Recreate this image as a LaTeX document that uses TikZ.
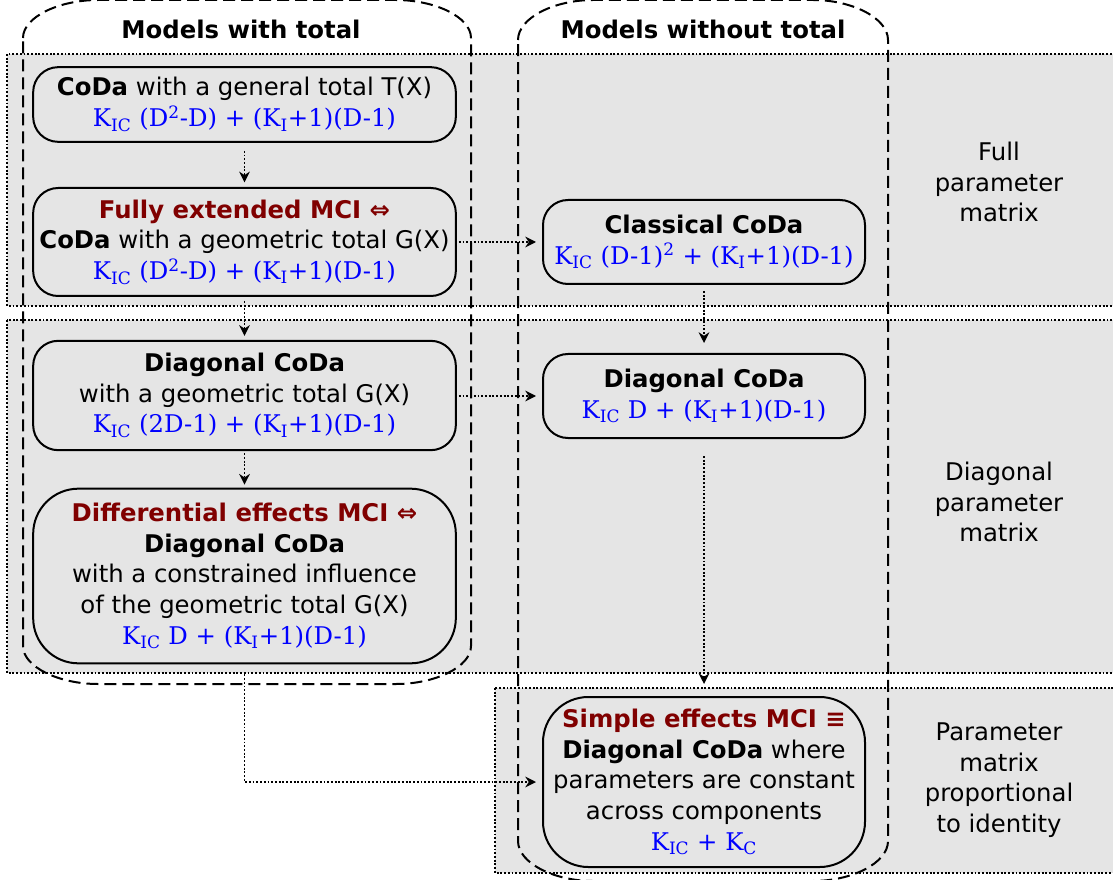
\documentclass[tikz,border=0pt]{standalone}
\usepackage{fontspec}
\setmainfont{DejaVu Sans}
\newfontfamily\formfont{DejaVu Serif}
\usetikzlibrary{arrows.meta}
\definecolor{bandgray}{gray}{0.9}
\definecolor{mcired}{rgb}{0.5,0,0}
\newcommand{\frm}[1]{{\formfont\color{blue}#1}}
\newcommand{\mci}[1]{{\bfseries\color{mcired}#1}}
\tikzset{
  model/.style={draw, line width=1.5pt, fill=bandgray, rounded corners=18.75pt,
    align=center, inner sep=0pt, minimum width=317pt},
  bigmodel/.style={model, rounded corners=34pt},
  band/.style={draw, fill=bandgray, line width=1.4pt, dash pattern=on 1.4pt off 1.4pt},
  column/.style={draw, line width=1.5pt, dash pattern=on 9pt off 4.5pt},
  flow/.style={line width=1.4pt, dash pattern=on 1.4pt off 1.4pt, -{Stealth[length=8pt,width=8pt]}},
}
\begin{document}
\begin{tikzpicture}[x=0.75pt, y=-0.75pt, font=\fontsize{18.25}{23}\selectfont]
  \useasboundingbox (0,0) rectangle (1113,880);
  \draw[band] (7,54) rectangle (1125,306);
  \draw[band] (7,320) rectangle (1125,673);
  \draw[band] (495,688) rectangle (1125,873);
  \draw[column] (23,38) .. controls (23,17) and (59,0) .. (98,0) -- (396,0)
    .. controls (435,0) and (471,17) .. (471,38) -- (471,646)
    .. controls (471,667) and (435,684) .. (396,684) -- (98,684)
    .. controls (59,684) and (23,667) .. (23,646) -- cycle;
  \draw[column] (518,40) .. controls (518,18) and (554,0) .. (593,0) -- (813,0)
    .. controls (852,0) and (888,18) .. (888,40) -- (888,841)
    .. controls (888,863) and (852,881) .. (813,881) -- (593,881)
    .. controls (554,881) and (518,863) .. (518,841) -- cycle;
  \node[font=\fontsize{18.25}{23}\selectfont\bfseries] (withtitle) at (241,29) {Models with total};
  \node[font=\fontsize{18.25}{23}\selectfont\bfseries] (withouttitle) at (703,29) {Models without total};
  \node[model, minimum height=56pt] (A) at (244.5,104.5)
    {{\bfseries CoDa} with a general total T(X)\\
     \frm{K\textsubscript{IC} (D\textsuperscript{2}-D) + (K\textsubscript{I}+1)(D-1)}};
  \node[model, minimum height=81pt] (B) at (244.5,242)
    {\mci{Fully extended MCI ⇔}\\
     {\bfseries CoDa} with a geometric total G(X)\\
     \frm{K\textsubscript{IC} (D\textsuperscript{2}-D) + (K\textsubscript{I}+1)(D-1)}};
  \node[model, minimum height=82pt] (C) at (244.5,395.5)
    {{\bfseries Diagonal CoDa}\\
     with a geometric total G(X)\\
     \frm{K\textsubscript{IC} (2D-1) + (K\textsubscript{I}+1)(D-1)}};
  \node[bigmodel, minimum height=131pt] (D) at (244.5,576)
    {\mci{Differential effects MCI ⇔}\\
     {\bfseries Diagonal CoDa}\\
     with a constrained influence\\
     of the geometric total G(X)\\
     \frm{K\textsubscript{IC} D + (K\textsubscript{I}+1)(D-1)}};
  \node[model, minimum width=241.5pt, minimum height=63pt] (E) at (704,242)
    {{\bfseries Classical CoDa}\\
     \frm{K\textsubscript{IC} (D-1)\textsuperscript{2} + (K\textsubscript{I}+1)(D-1)}};
  \node[model, minimum width=241.5pt, minimum height=63pt] (F) at (704,396)
    {{\bfseries Diagonal CoDa}\\
     \frm{K\textsubscript{IC} D + (K\textsubscript{I}+1)(D-1)}};
  \node[bigmodel, minimum width=241.5pt, minimum height=127.5pt] (G) at (704,782)
    {\mci{Simple effects MCI ≡}\\
     {\bfseries Diagonal CoDa} where\\
     parameters are constant\\
     across components\\
     \frm{K\textsubscript{IC} + K\textsubscript{C}}};
  \node[align=center] (full) at (999,182) {Full\\ parameter\\ matrix};
  \node[align=center] (diag) at (999,502) {Diagonal\\ parameter\\ matrix};
  \node[align=center] (ident) at (999,780) {Parameter\\ matrix\\ proportional\\ to identity};
  \begin{scope}[flow]
    \draw[shorten <=6pt, shorten >=3.5pt] (A) -- (B);
    \draw[shorten <=3pt, shorten >=3pt] (B) -- (C);
    \draw[shorten <=1.5pt, shorten >=2.25pt] (C) -- (D);
    \draw[shorten <=1.5pt, shorten >=4.5pt] (B) -- (E);
    \draw[shorten <=1.5pt, shorten >=4.5pt] (C.east |- F) -- (F);
    \draw[shorten <=4.5pt, shorten >=7.5pt] (E) -- (F);
    \draw[shorten <=12.75pt, shorten >=9pt] (F) -- (G);
    \draw[shorten <=7.5pt, shorten >=4.5pt] (D) |- (G);
  \end{scope}
\end{tikzpicture}
\end{document}
